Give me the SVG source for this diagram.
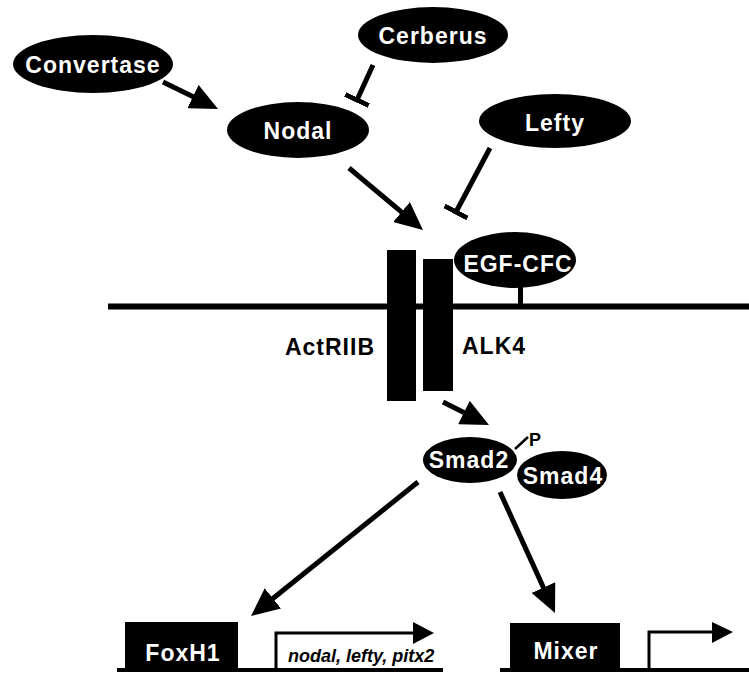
<svg xmlns="http://www.w3.org/2000/svg" width="749" height="673" viewBox="0 0 749 673">
<style>
.n{fill:#000}
.t{fill:#fff;font-family:"Liberation Sans",Arial,sans-serif;font-weight:bold;font-size:23px;letter-spacing:1px;text-anchor:middle}
.k{fill:#000;font-family:"Liberation Sans",Arial,sans-serif;font-weight:bold;font-size:23px;letter-spacing:1px}
.e{stroke:#000;stroke-width:5;fill:none}
</style>
<defs>
<marker id="arr" viewBox="0 0 28 26" refX="6" refY="13" markerWidth="28" markerHeight="26" markerUnits="userSpaceOnUse" orient="auto">
<path d="M0,0 L28,13 L0,26 z" fill="#000"/>
</marker>
<marker id="bar" viewBox="0 0 5 26" refX="2.5" refY="13" markerWidth="5" markerHeight="26" markerUnits="userSpaceOnUse" orient="auto">
<rect x="0" y="0" width="5" height="26" fill="#000"/>
</marker>
</defs>
<rect width="749" height="673" fill="#fff"/>
<g id="membrane">
<rect x="108" y="303.5" width="641" height="6" fill="#000"/>
</g>
<g id="connectors">
<line class="e" x1="163" y1="82" x2="198.3" y2="99.3" marker-end="url(#arr)"/>
<line class="e" x1="373" y1="65" x2="357" y2="100" marker-end="url(#bar)"/>
<line class="e" x1="490" y1="148" x2="456" y2="212" marker-end="url(#bar)"/>
<line class="e" x1="349" y1="168" x2="406.1" y2="215.9" marker-end="url(#arr)"/>
<line class="e" x1="443" y1="402" x2="469.3" y2="415.2" marker-end="url(#arr)"/>
<line class="e" x1="418" y1="482" x2="268.2" y2="602.2" marker-end="url(#arr)"/>
<line class="e" x1="500" y1="492" x2="545.9" y2="593" marker-end="url(#arr)"/>
</g>
<g id="convertase">
<ellipse class="n" cx="93" cy="64" rx="80" ry="29"/>
<text class="t" x="93" y="73">Convertase</text>
</g>
<g id="cerberus">
<ellipse class="n" cx="433" cy="35" rx="75" ry="28"/>
<text class="t" x="433" y="44">Cerberus</text>
</g>
<g id="nodal">
<ellipse class="n" cx="298" cy="130" rx="71" ry="28"/>
<text class="t" x="298" y="139">Nodal</text>
</g>
<g id="lefty">
<ellipse class="n" cx="555" cy="121" rx="76" ry="27"/>
<text class="t" x="555" y="131">Lefty</text>
</g>
<g id="actriib">
<rect x="387" y="250" width="29" height="151" fill="#000"/>
<text class="k" x="375" y="355" text-anchor="end">ActRIIB</text>
</g>
<g id="alk4">
<rect x="423" y="259" width="30" height="132" fill="#000"/>
<text class="k" x="462" y="354">ALK4</text>
</g>
<g id="egfcfc">
<rect x="518" y="284" width="5" height="22" fill="#000"/>
<ellipse class="n" cx="515" cy="260" rx="61" ry="28"/>
<text class="t" x="518" y="272">EGF-CFC</text>
</g>
<g id="smad2">
<line x1="515" y1="449" x2="528" y2="437" stroke="#000" stroke-width="2.5"/>
<text x="529" y="446" font-family="Liberation Sans, Arial, sans-serif" font-weight="bold" font-size="18" fill="#000">P</text>
<ellipse class="n" cx="470" cy="460" rx="47" ry="23"/>
<text class="t" x="469" y="468">Smad2</text>
</g>
<g id="smad4">
<ellipse class="n" cx="562" cy="475" rx="45" ry="24"/>
<text class="t" x="563" y="484">Smad4</text>
</g>
<g id="foxh1">
<rect x="117" y="668" width="326" height="4" fill="#000"/>
<rect x="125" y="622" width="113" height="48" fill="#000"/>
<text class="t" x="183" y="661">FoxH1</text>
<path d="M276,670 V633 H415" stroke="#000" stroke-width="3" fill="none"/>
<path d="M413,622 L434,633 L413,644 z" fill="#000"/>
<text x="288" y="662" font-family="Liberation Sans, Arial, sans-serif" font-weight="bold" font-style="italic" font-size="18" fill="#000">nodal, lefty, pitx2</text>
</g>
<g id="mixer">
<rect x="500" y="668" width="249" height="4" fill="#000"/>
<rect x="510" y="623" width="110" height="47" fill="#000"/>
<text class="t" x="566" y="659">Mixer</text>
<path d="M649,670 V632 H714" stroke="#000" stroke-width="3" fill="none"/>
<path d="M712,622 L733,632 L712,643 z" fill="#000"/>
</g>
</svg>
